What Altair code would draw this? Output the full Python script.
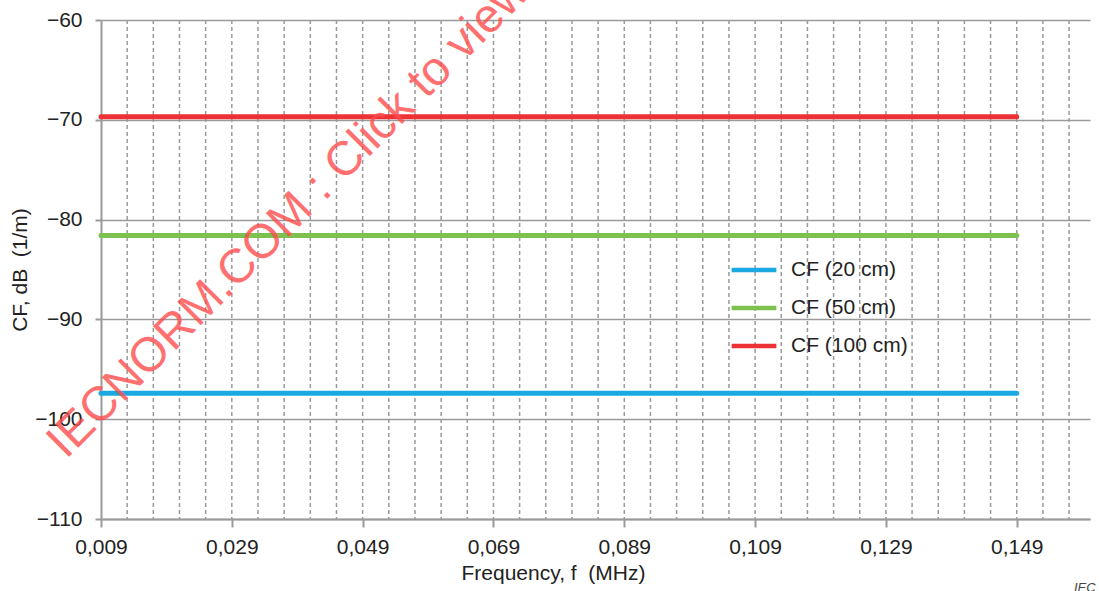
import altair as alt
import pandas as pd

# ---- data ----
series = ["CF (20 cm)", "CF (50 cm)", "CF (100 cm)"]
cf_values = [-97.4, -81.6, -69.7]          # dB (1/m), constant over frequency
freq_start = 0.009                         # MHz
freq_end = 0.149                           # MHz
colors = ["#1AA9E1", "#7DC24F", "#EE3135"]

x_ticks = [0.009, 0.029, 0.049, 0.069, 0.089, 0.109, 0.129, 0.149]
x_minor = [round(0.013 + 0.004 * i, 3) for i in range(37)]
y_ticks = [-110, -100, -90, -80, -70, -60]

rows = []
for s, v in zip(series, cf_values):
    rows.append({"series": s, "freq": freq_start, "cf": v})
    rows.append({"series": s, "freq": freq_end, "cf": v})
df = pd.DataFrame(rows)
grid_df = pd.DataFrame({"freq": x_minor})

W, H = 989, 499
FS = 21
NB = "\u00a0"
xscale = alt.Scale(domain=[0.009, 0.1602], nice=False, zero=False)
yscale = alt.Scale(domain=[-110, -60], nice=False, zero=False)

x_axis = alt.Axis(
    values=x_ticks,
    labelExpr="replace(format(datum.value, '.3f'), '.', ',')",
    labelFlush=False,
    title="Frequency, f" + NB + NB + "(MHz)",
    titleX=452,
    grid=False,
    tickSize=8,
    labelPadding=9,
    titlePadding=5,
)

vgrid = alt.Chart(grid_df).mark_rule(
    strokeDash=[4, 3], color="#9a9a9a", strokeWidth=1.5
).encode(x=alt.X("freq:Q", scale=xscale, axis=x_axis))

lines = alt.Chart(df).mark_line(strokeWidth=5, strokeCap="round").encode(
    x=alt.X("freq:Q", scale=xscale, axis=x_axis),
    y=alt.Y(
        "cf:Q",
        scale=yscale,
        axis=alt.Axis(
            values=y_ticks,
            title="CF, dB" + NB + NB + "(1/m)",
            grid=True,
            tickSize=6,
            labelPadding=13,
            titlePadding=4,
        ),
    ),
    color=alt.Color(
        "series:N",
        sort=series,
        scale=alt.Scale(domain=series, range=colors),
        legend=alt.Legend(
            title=None,
            orient="none",
            legendX=628,
            legendY=225,
            symbolType="stroke",
            symbolSize=2000,
            symbolStrokeWidth=4.5,
            labelFontSize=FS,
            labelColor="#222222",
            labelOffset=12,
            rowPadding=3,
            padding=0,
        ),
    ),
)

wm = alt.Chart(pd.DataFrame({"t": ["IECNORM.COM : Click to view the full PDF of IEC"]})).mark_text(
    align="left", baseline="alphabetic", angle=315, fontSize=48,
    color="#FF4D4D", opacity=0.8, font="Liberation Sans"
).encode(text="t:N", x=alt.value(-35), y=alt.value(440))

iec = alt.Chart(pd.DataFrame({"t": ["IEC"]})).mark_text(
    align="left", baseline="top", fontSize=13, fontStyle="italic",
    color="#444444", font="Liberation Sans"
).encode(text="t:N", x=alt.value(973), y=alt.value(562))

chart = alt.layer(vgrid, lines, wm, iec).properties(
    width=W, height=H,
    autosize=alt.AutoSizeParams(type="none"),
    padding={"left": 101, "top": 20, "right": 9, "bottom": 72},
).configure(font="Liberation Sans").configure_view(stroke=None).configure_axis(
    labelFont="Liberation Sans", titleFont="Liberation Sans",
    labelFontSize=FS, titleFontSize=FS, labelColor="#222222", titleColor="#222222",
    titleFontWeight="normal", domainColor="#9a9a9a", domainWidth=2,
    tickColor="#9a9a9a", tickWidth=2, gridColor="#9a9a9a", gridWidth=1.5, gridOpacity=1,
).configure_legend(labelFont="Liberation Sans")

chart.save("out.html", embed_options={"renderer": "svg", "actions": False})
